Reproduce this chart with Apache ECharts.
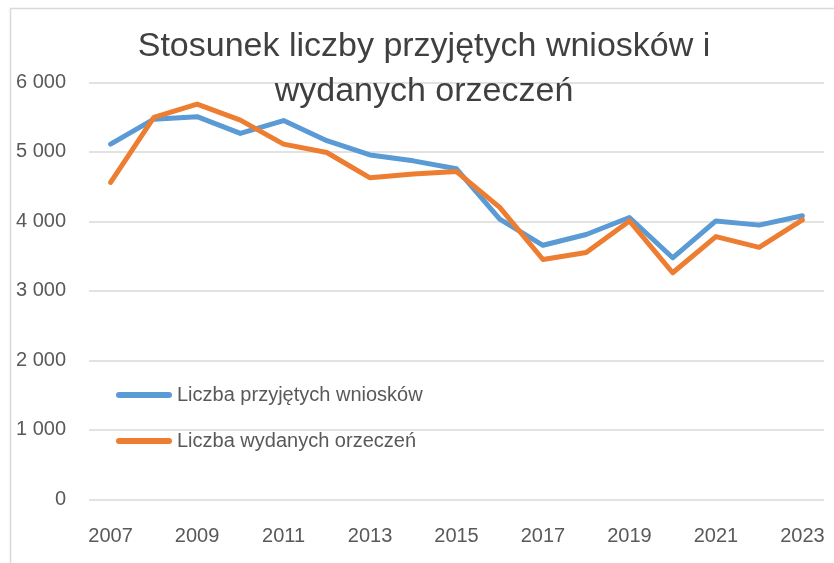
<!DOCTYPE html>
<html>
<head>
<meta charset="utf-8">
<script src="https://cdn.jsdelivr.net/npm/echarts@6/dist/echarts.min.js"></script>
<style>
html,body{margin:0;padding:0;background:#fff;}
#chart{width:834px;height:563px;}
</style>
</head>
<body>
<div id="chart"></div>
<script>
const titleText = "Stosunek liczby przyjętych wniosków i\nwydanych orzeczeń";
const years = ["2007","2008","2009","2010","2011","2012","2013","2014","2015","2016","2017","2018","2019","2020","2021","2022","2023"];
const seriesNames = ["Liczba przyjętych wniosków", "Liczba wydanych orzeczeń"];
const przyjete = [5110, 5470, 5505, 5265, 5450, 5160, 4955, 4870, 4755, 4030, 3655, 3810, 4055, 3475, 4005, 3945, 4080];
const orzeczenia = [4560, 5495, 5685, 5455, 5110, 4990, 4625, 4680, 4715, 4200, 3450, 3550, 4005, 3260, 3780, 3625, 4020];
const yTicks = { min: 0, max: 6000, interval: 1000 };

const FONT = "Liberation Sans";
const chart = echarts.init(document.getElementById('chart'), null, {renderer: 'canvas'});
chart.setOption({
  backgroundColor: '#fff',
  animation: false,
  graphic: [{
    type: 'rect', left: 8, top: 6, z: -1,
    shape: { width: 900, height: 700 },
    style: { fill: 'none', stroke: '#d9d9d9', lineWidth: 1.5 }
  }],
  title: {
    text: titleText,
    left: 419, top: 19, textAlign: 'center',
    textStyle: { fontFamily: FONT, fontSize: 34, fontWeight: 'normal', color: '#404040', lineHeight: 45 }
  },
  legend: {
    orient: 'vertical',
    left: 111, top: 380,
    itemWidth: 56, itemHeight: 6, itemGap: 26,
    icon: 'path://M3,0 L53,0 A3,3 0 0 1 53,6 L3,6 A3,3 0 0 1 3,0 Z',
    textStyle: { fontFamily: FONT, fontSize: 20, color: '#595959' },
    data: seriesNames
  },
  grid: { left: 89, right: 10, top: 82.3, bottom: 63.7 },
  xAxis: {
    type: 'category',
    data: years,
    boundaryGap: true,
    axisLine: { show: false },
    axisTick: { show: false },
    axisLabel: { interval: 1, fontFamily: FONT, fontSize: 20, color: '#595959', margin: 27 }
  },
  yAxis: {
    type: 'value',
    min: yTicks.min, max: yTicks.max, interval: yTicks.interval,
    axisLine: { show: false },
    axisTick: { show: false },
    splitLine: { lineStyle: { color: '#d9d9d9', width: 1.5 } },
    axisLabel: {
      fontFamily: FONT, fontSize: 20, color: '#595959', margin: 23,
      formatter: v => v >= 1000 ? String(v).replace(/\B(?=(\d{3})+(?!\d))/g, ' ') : String(v)
    }
  },
  series: [
    { name: seriesNames[0], type: 'line', data: przyjete, symbol: 'none',
      lineStyle: { color: '#5B9BD5', width: 5, cap: 'round', join: 'round' }, itemStyle: { color: '#5B9BD5' } },
    { name: seriesNames[1], type: 'line', data: orzeczenia, symbol: 'none',
      lineStyle: { color: '#ED7D31', width: 5, cap: 'round', join: 'round' }, itemStyle: { color: '#ED7D31' } }
  ]
});
</script>
</body>
</html>
